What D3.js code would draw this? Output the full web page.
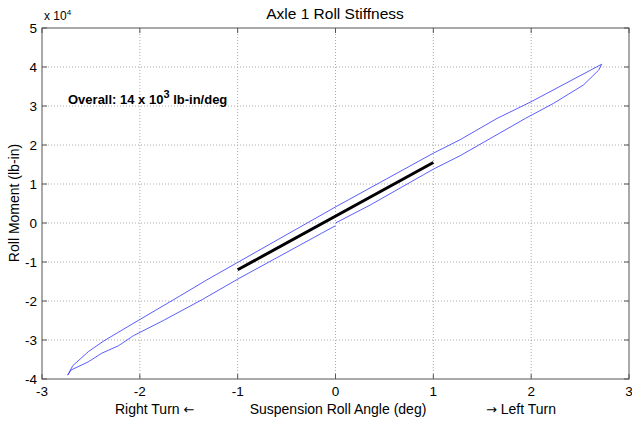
<!DOCTYPE html>
<html><head><meta charset="utf-8">
<script src="https://cdn.jsdelivr.net/npm/d3@7"></script>
<style>body{margin:0;background:#fff}svg{display:block;font-family:"Liberation Sans",Arial,sans-serif}</style>
</head><body><svg id="c" width="632" height="423"></svg>
<script>
const xTicks=[-3,-2,-1,0,1,2,3];
const yTicks=[-4,-3,-2,-1,0,1,2,3,4,5];
// hysteresis loop, x in deg, y in 1e4 lb-in
const loopX=[0.0,0.354,1.0,1.27,1.94,2.23,2.535,2.69,2.72,2.0,1.65,1.27,1.0,0.006,-0.986,-1.316,-1.657,-1.99,-2.366,-2.527,-2.686,-2.737,-2.703,-2.527,-2.39,-2.22,-2.066,-1.76,-1.367,-0.986,-0.14,0.0];
const loopY=[0.0,0.46,1.38,1.72,2.68,3.07,3.54,3.92,4.07,3.11,2.68,2.13,1.79,0.42,-0.99,-1.46,-1.97,-2.46,-3.02,-3.3,-3.66,-3.9,-3.77,-3.56,-3.34,-3.15,-2.89,-2.5,-1.97,-1.42,-0.26,-0.07];
const fitX=[-1,1];
const fitY=[-1.2,1.55];

const svg=d3.select("#c");
const L=42,R=629,T=28,B=379;
const x=d3.scaleLinear().domain([-3,3]).range([L,R]);
const y=d3.scaleLinear().domain([-4,5]).range([B,T]);
const g=svg.append("g");
// grid
g.selectAll(".gx").data(xTicks.slice(1,-1)).join("line").attr("x1",d=>x(d)).attr("x2",d=>x(d)).attr("y1",T).attr("y2",B).attr("stroke","#aaa").attr("stroke-dasharray","1,2");
g.selectAll(".gy").data(yTicks.slice(1,-1)).join("line").attr("y1",d=>y(d)).attr("y2",d=>y(d)).attr("x1",L).attr("x2",R).attr("stroke","#aaa").attr("stroke-dasharray","1,2");
// box
g.append("rect").attr("x",L).attr("y",T).attr("width",R-L).attr("height",B-T).attr("fill","none").attr("stroke","#555");
// inward ticks
const tl=5;
xTicks.forEach(d=>{g.append("line").attr("x1",x(d)).attr("x2",x(d)).attr("y1",B).attr("y2",B-tl).attr("stroke","#555");g.append("line").attr("x1",x(d)).attr("x2",x(d)).attr("y1",T).attr("y2",T+tl).attr("stroke","#555");});
yTicks.forEach(d=>{g.append("line").attr("y1",y(d)).attr("y2",y(d)).attr("x1",L).attr("x2",L+tl).attr("stroke","#555");g.append("line").attr("y1",y(d)).attr("y2",y(d)).attr("x1",R).attr("x2",R-tl).attr("stroke","#555");});
// tick labels
g.selectAll(".xl").data(xTicks).join("text").attr("x",d=>x(d)).attr("y",B+17).attr("text-anchor","middle").attr("font-size",13.5).text(d=>d);
g.selectAll(".yl").data(yTicks).join("text").attr("x",L-5).attr("y",d=>y(d)+5).attr("text-anchor","end").attr("font-size",13.5).text(d=>d);
// exponent
const ex=svg.append("text").attr("x",44).attr("y",20).attr("font-size",12);
ex.append("tspan").text("x 10");ex.append("tspan").attr("dy",-5).attr("font-size",8).text("4");
// data
const line=d3.line().x(d=>x(d[0])).y(d=>y(d[1]));
g.append("path").attr("d",line(loopX.map((v,i)=>[v,loopY[i]]))).attr("fill","none").attr("stroke","#3333ff").attr("stroke-width",0.8);
g.append("path").attr("d",line(fitX.map((v,i)=>[v,fitY[i]]))).attr("fill","none").attr("stroke","#000").attr("stroke-width",3);
// texts
svg.append("text").attr("x",335).attr("y",19).attr("text-anchor","middle").attr("font-size",15.5).text("Axle 1 Roll Stiffness");
const an=svg.append("text").attr("x",68).attr("y",104).attr("font-size",13).attr("font-weight","bold");
an.append("tspan").text("Overall: 14 x 10");an.append("tspan").attr("dy",-6).attr("font-size",11).text("3");an.append("tspan").attr("dy",6).text(" lb-in/deg");
svg.append("text").attr("x",338).attr("y",414).attr("text-anchor","middle").attr("font-size",14).text("Suspension Roll Angle (deg)");
const rt=svg.append("text").attr("x",115).attr("y",414).attr("font-size",14);
rt.append("tspan").text("Right Turn ");rt.append("tspan").attr("font-family","DejaVu Sans").attr("font-size",13).text("\u2190");
const lt=svg.append("text").attr("x",486).attr("y",414).attr("font-size",14);
lt.append("tspan").attr("font-family","DejaVu Sans").attr("font-size",13).text("\u2192");lt.append("tspan").text(" Left Turn");
svg.append("text").attr("transform","translate(19,203) rotate(-90)").attr("text-anchor","middle").attr("font-size",14).text("Roll Moment (lb-in)");
</script></body></html>
